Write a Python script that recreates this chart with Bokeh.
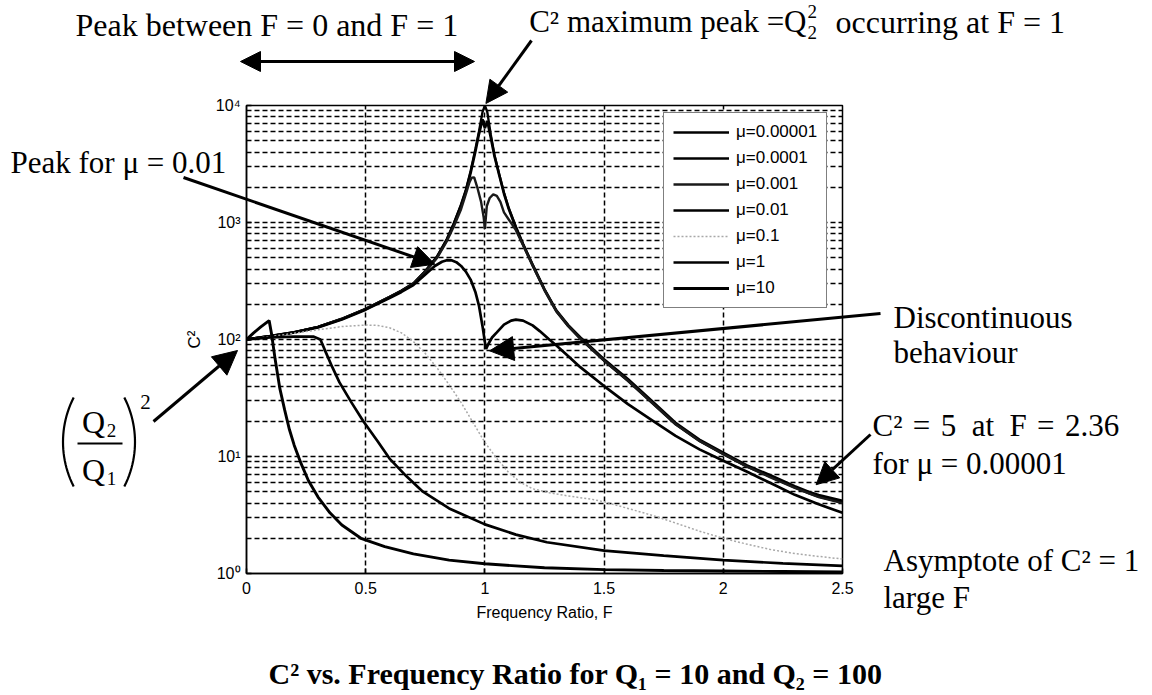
from bokeh.plotting import figure
from bokeh.layouts import column
from bokeh.models import Range1d, FixedTicker, Label, Arrow, NormalHead, Legend, LegendItem
from bokeh.embed import file_html
from bokeh.resources import INLINE
import numpy as np

# ---------------- data: C^2 against frequency ratio F (Q1 = 10, Q2 = 100) ----------------
MU_LABELS = ["\u03bc=0.00001", "\u03bc=0.0001", "\u03bc=0.001", "\u03bc=0.01", "\u03bc=0.1", "\u03bc=1", "\u03bc=10"]

F_mu_1e5 = [0.0, 0.1, 0.2, 0.3, 0.4, 0.5, 0.6, 0.65, 0.7, 0.75, 0.8, 0.84, 0.87, 0.9, 0.92, 0.94, 0.96, 0.975,
            0.99, 1.0, 1.01, 1.025, 1.04, 1.06, 1.08, 1.1, 1.13, 1.16, 1.2, 1.25, 1.3, 1.35, 1.4, 1.5, 1.6, 1.7,
            1.8, 1.9, 2.0, 2.1, 2.2, 2.3, 2.36, 2.4, 2.5]
C2_mu_1e5 = [100, 107, 115, 128, 150, 183, 232, 262, 302, 385, 516, 720, 990, 1430, 1900, 2750, 4250, 6000,
             8800, 10000, 8800, 5600, 3800, 2600, 1800, 1330, 920, 660, 440, 270, 178, 133, 105, 68, 46, 30,
             19.5, 14, 10.8, 8.4, 6.9, 5.6, 5.0, 4.7, 4.2]

F_mu_1e4 = [0.0, 0.1, 0.2, 0.3, 0.4, 0.5, 0.6, 0.65, 0.7, 0.75, 0.8, 0.84, 0.87, 0.9, 0.92, 0.94, 0.96, 0.975,
            0.99, 1.0, 1.01, 1.025, 1.04, 1.06, 1.08, 1.1, 1.13, 1.16, 1.2, 1.25, 1.3, 1.35, 1.4, 1.5, 1.6, 1.7,
            1.8, 1.9, 2.0, 2.1, 2.2, 2.3, 2.36, 2.4, 2.5]
C2_mu_1e4 = [100, 107, 115, 128, 150, 182, 230, 260, 300, 382, 510, 712, 975, 1400, 1850, 2650, 4050, 5700,
             7600, 6400, 7400, 5300, 3700, 2550, 1770, 1310, 905, 650, 432, 265, 174, 130, 102, 66, 44.5, 29,
             18.9, 13.6, 10.5, 8.2, 6.7, 5.45, 4.85, 4.55, 4.05]

F_mu_1e3 = [0.0, 0.1, 0.2, 0.3, 0.4, 0.5, 0.6, 0.65, 0.7, 0.75, 0.8, 0.84, 0.87, 0.9, 0.92, 0.935, 0.945, 0.955,
            0.968, 0.984, 0.995, 1.0, 1.008, 1.02, 1.035, 1.05, 1.065, 1.08, 1.1, 1.13, 1.16, 1.2, 1.25, 1.3,
            1.35, 1.4, 1.5, 1.6, 1.7, 1.8, 1.9, 2.0, 2.1, 2.2, 2.3, 2.4, 2.5]
C2_mu_1e3 = [100, 107, 115, 128, 150, 182, 230, 258, 298, 378, 500, 690, 930, 1300, 1750, 2200, 2420, 2430,
             2000, 1500, 1100, 880, 1380, 1620, 1740, 1690, 1500, 1220, 1060, 860, 640, 430, 266, 175,
             130, 102, 66, 44.5, 29, 18.9, 13.6, 10.5, 8.2, 6.6, 5.4, 4.5, 4.0]

F_mu_1e2 = [0.0, 0.1, 0.2, 0.3, 0.4, 0.5, 0.6, 0.65, 0.7, 0.75, 0.79, 0.82, 0.84, 0.86, 0.88, 0.9, 0.92, 0.94,
            0.96, 0.975, 0.99, 1.0, 1.005, 1.015, 1.03, 1.05, 1.08, 1.11, 1.13, 1.16, 1.2, 1.23, 1.27, 1.3,
            1.35, 1.4, 1.5, 1.6, 1.7, 1.8, 1.9, 2.0, 2.1, 2.2, 2.3, 2.4, 2.5]
C2_mu_1e2 = [100, 107, 115, 127, 148, 180, 226, 255, 292, 360, 425, 462, 476, 475, 458, 425, 380, 325,
             255, 195, 130, 95, 83, 92, 104, 115, 134, 145, 148, 145, 132, 118, 100, 89,
             72, 58, 40, 28, 20.5, 15, 11.5, 9.2, 7.4, 5.9, 4.7, 3.9, 3.3]

F_mu_1e1 = [0.0, 0.1, 0.2, 0.3, 0.4, 0.5, 0.55, 0.6, 0.65, 0.7, 0.75, 0.8, 0.85, 0.9, 0.95, 1.0, 1.05, 1.1,
            1.15, 1.2, 1.27, 1.35, 1.45, 1.5, 1.6, 1.7, 1.8, 1.9, 2.0, 2.1, 2.2, 2.3, 2.4, 2.5]
C2_mu_1e1 = [100, 106, 113, 121, 129, 133, 132, 126, 114, 96, 76, 57, 41, 29, 19.5, 13.2, 9.6, 7.3,
             6.0, 5.3, 4.9, 4.6, 4.3, 4.1, 3.6, 3.15, 2.7, 2.3, 2.0, 1.78, 1.6, 1.48, 1.4, 1.33]

F_mu_1 = [0.0, 0.1, 0.2, 0.28, 0.31, 0.33, 0.36, 0.39, 0.44, 0.49, 0.55, 0.6, 0.67, 0.74, 0.85, 1.0, 1.13,
          1.26, 1.5, 1.75, 2.0, 2.25, 2.5]
C2_mu_1 = [100, 104, 106, 106, 100, 80, 58, 43, 29, 20, 13.5, 9.6, 6.8, 5.0, 3.6, 2.63, 2.15,
           1.85, 1.57, 1.42, 1.3, 1.22, 1.16]

F_mu_10 = [0.0, 0.03, 0.06, 0.095, 0.105, 0.12, 0.14, 0.16, 0.18, 0.2, 0.23, 0.26, 0.3, 0.35, 0.4, 0.48,
           0.58, 0.7, 0.85, 1.0, 1.25, 1.5, 1.75, 2.0, 2.25, 2.5]
C2_mu_10 = [100, 114, 128, 145, 112, 68, 38, 25, 17, 12.5, 8.6, 6.2, 4.5, 3.3, 2.6, 2.0,
            1.7, 1.47, 1.3, 1.21, 1.12, 1.08, 1.06, 1.05, 1.04, 1.03]

X_TICKS = [0, 0.5, 1, 1.5, 2, 2.5]
X_TICK_LABELS = ["0", "0.5", "1", "1.5", "2", "2.5"]
Y_TICKS = [1, 10, 100, 1000, 10000]
Y_TICK_LABELS = ["10\u2070", "10\u00b9", "10\u00b2", "10\u00b3", "10\u2074"]
Y_MINOR = [m * 10 ** k for k in range(4) for m in range(2, 10)]

# ---------------- page geometry ----------------
W, H = 1152, 695
L, R, T, B = 246, 842, 105, 573   # plot frame edges in page pixels

p = figure(width=W, height=H, x_range=Range1d(0, 2.5), y_range=Range1d(1, 1e4), y_axis_type="log",
           output_backend="svg", toolbar_location=None,
           min_border_left=L, min_border_right=W - R, min_border_top=T, min_border_bottom=H - B)
p.background_fill_color = "white"
p.border_fill_color = "white"
p.outline_line_color = "black"
p.outline_line_width = 1.5
p.outline_line_alpha = 1.0

# axes
p.xaxis.ticker = FixedTicker(ticks=X_TICKS)
p.xaxis.major_label_overrides = dict(zip(X_TICKS, X_TICK_LABELS))
p.yaxis.ticker = FixedTicker(ticks=Y_TICKS, minor_ticks=Y_MINOR)
p.yaxis.major_label_overrides = dict(zip(Y_TICKS, Y_TICK_LABELS))
p.xaxis.axis_label = "Frequency Ratio, F"
p.yaxis.axis_label = "C\u00b2"
for ax in (p.xaxis[0], p.yaxis[0]):
    ax.axis_line_color = "black"
    ax.axis_line_width = 1.5
    ax.major_tick_in = 5
    ax.major_tick_out = 0
    ax.minor_tick_in = 0
    ax.minor_tick_out = 0
    ax.major_tick_line_color = "black"
    ax.major_tick_line_width = 1.5
    ax.major_label_text_font = "Liberation Sans"
    ax.major_label_text_font_size = "16px"
    ax.major_label_text_color = "black"
    ax.axis_label_text_font = "Liberation Sans"
    ax.axis_label_text_font_size = "16px"
    ax.axis_label_text_font_style = "normal"
    ax.axis_label_text_color = "black"
p.xaxis.major_label_standoff = 8
p.xaxis.axis_label_standoff = 7
p.yaxis.major_label_standoff = 6
p.yaxis.axis_label_standoff = 9
p.yaxis.axis_label_text_font_size = "17px"

# dashed grid, minor lines on the log axis
for g in (p.xgrid[0], p.ygrid[0]):
    g.grid_line_color = "black"
    g.grid_line_dash = "5 3"
    g.grid_line_width = 1.5
p.ygrid.minor_grid_line_color = "black"
p.ygrid.minor_grid_line_dash = "5 3"
p.ygrid.minor_grid_line_width = 1.5

# curves
series = [
    (F_mu_1e5, C2_mu_1e5, dict(line_color="black", line_width=2.3)),
    (F_mu_1e4, C2_mu_1e4, dict(line_color="black", line_width=2.7)),
    (F_mu_1e3, C2_mu_1e3, dict(line_color="#1a1a1a", line_width=2.4)),
    (F_mu_1e2, C2_mu_1e2, dict(line_color="black", line_width=2.7)),
    (F_mu_1e1, C2_mu_1e1, dict(line_color="#a8a8a8", line_width=1.5, line_dash="2 2")),
    (F_mu_1, C2_mu_1, dict(line_color="black", line_width=2.7)),
    (F_mu_10, C2_mu_10, dict(line_color="black", line_width=2.9)),
]
items = []
for (fx_, cy_, style), lab in zip(series, MU_LABELS):
    r = p.line(fx_, cy_, **style)
    items.append(LegendItem(label=lab, renderers=[r]))

legend = Legend(items=items, location=(663 - L, B - 308))
legend.border_line_color = "black"
legend.border_line_width = 1.4
legend.background_fill_color = "white"
legend.background_fill_alpha = 1.0
legend.padding = 9
legend.spacing = 6
legend.margin = 0
legend.label_height = 20
legend.glyph_height = 20
legend.glyph_width = 56
legend.label_standoff = 7
legend.label_text_font = "Liberation Sans"
legend.label_text_font_size = "17px"
legend.label_text_color = "black"
p.add_layout(legend)

# ---------------- annotation layer: transparent canvas in page pixels ----------------
over = figure(width=W, height=H, x_range=Range1d(0, W), y_range=Range1d(H, 0), output_backend="svg",
              toolbar_location=None, x_axis_location=None, y_axis_location=None, min_border=0)
over.background_fill_alpha = 0
over.border_fill_alpha = 0
over.outline_line_color = None
over.grid.visible = False
over.styles = {"position": "absolute", "top": "0px", "left": "0px"}
# keep this canvas' frame independent of the chart's frame
for fig in (p, over):
    if hasattr(fig, "frame_align"):
        fig.frame_align = False

SP3 = "\u2004"   # three-per-em space
SP2 = "\u2002"   # en space


def data_px(F, c2):
    """page position of a point of the chart"""
    return L + F / 2.5 * (R - L), B - np.log10(c2) / 4.0 * (B - T)


def note(text, px, py, size=31, align="left", bold=False, font="Liberation Serif"):
    over.add_layout(Label(x=px, y=py, text=text, text_font=font, text_font_size=f"{size}px",
                          text_align=align, text_baseline="middle",
                          text_font_style="bold" if bold else "normal", text_color="black"))


def head(size):
    return NormalHead(size=size, fill_color="black", line_color="black", line_width=1)


def pointer(px0, py0, px1, py1, size=20, width=3, both=False):
    over.add_layout(Arrow(x_start=px0, y_start=py0, x_end=px1, y_end=py1, line_color="black",
                          line_width=width, end=head(size), start=head(size) if both else None))


# top: range of the low-frequency peak
note("Peak between F = 0 and F = 1", 75, 24, size=32)
pointer(240, 61, 474, 61, size=20, both=True)

# top: maximum peak, C^2 = Q2^2 at F = 1
note("C\u00b2 maximum peak =Q", 806, 21, align="right")
note("2", 807, 11, size=19)
note("2", 807, 32, size=19)
note("occurring at F = 1", 835, 21, size=32)
tip = data_px(1.0, C2_mu_1e5[F_mu_1e5.index(1.0)])
pointer(531, 40, tip[0] + 1, tip[1] - 2, size=22)

# left: peak of the mu = 0.01 curve
note("Peak for \u03bc = 0.01", 10, 162)
tip = data_px(0.79, 440)
pointer(183, 177, tip[0], tip[1], size=22)

# left: low-frequency limit (Q2/Q1)^2
note("Q", 93, 421, size=32, align="center")
note("2", 111, 430, size=19, align="center")
note("Q", 93, 469, size=32, align="center")
note("1", 111, 478, size=19, align="center")
over.line([77, 122], [443, 443], line_color="black", line_width=2)
note("2", 145, 401, size=21, align="center")
ys = np.linspace(397, 486, 25)
for xc, side in ((160.5, -1), (36.5, 1)):
    over.line(xc + side * np.sqrt(98.0 ** 2 - (ys - 441.5) ** 2), ys, line_color="black", line_width=2.2)
pointer(153, 421, 237, 350, size=24)

# right: discontinuity of the mu = 0.01 curve
note("Discontinuous", 893, 317)
note("behaviour", 893, 352)
tip = data_px(1.02, 80)
pointer(880, 313, tip[0], tip[1], size=24)

# right: value at F = 2.36
note(f"C\u00b2{SP3}={SP3}5{SP2}at{SP2}F{SP3}={SP3}2.36", 872, 425)
note("for \u03bc = 0.00001", 872, 463)
i236 = F_mu_1e5.index(2.36)
tip = data_px(F_mu_1e5[i236], C2_mu_1e5[i236])
pointer(870, 434, tip[0] + 7, tip[1] - 7, size=22)

# right: large-F asymptote
note("Asymptote of C\u00b2 = 1", 883, 560)
note("large F", 883, 597)

# caption
note("C\u00b2 vs. Frequency Ratio for Q\u2081 = 10 and Q\u2082 = 100", 575, 673, size=30, align="center", bold=True)

# the annotation canvas sits on top of the chart canvas
page = column(p, over, spacing=0)
open("out.html", "w").write(file_html(page, INLINE, title="C2 vs frequency ratio"))
